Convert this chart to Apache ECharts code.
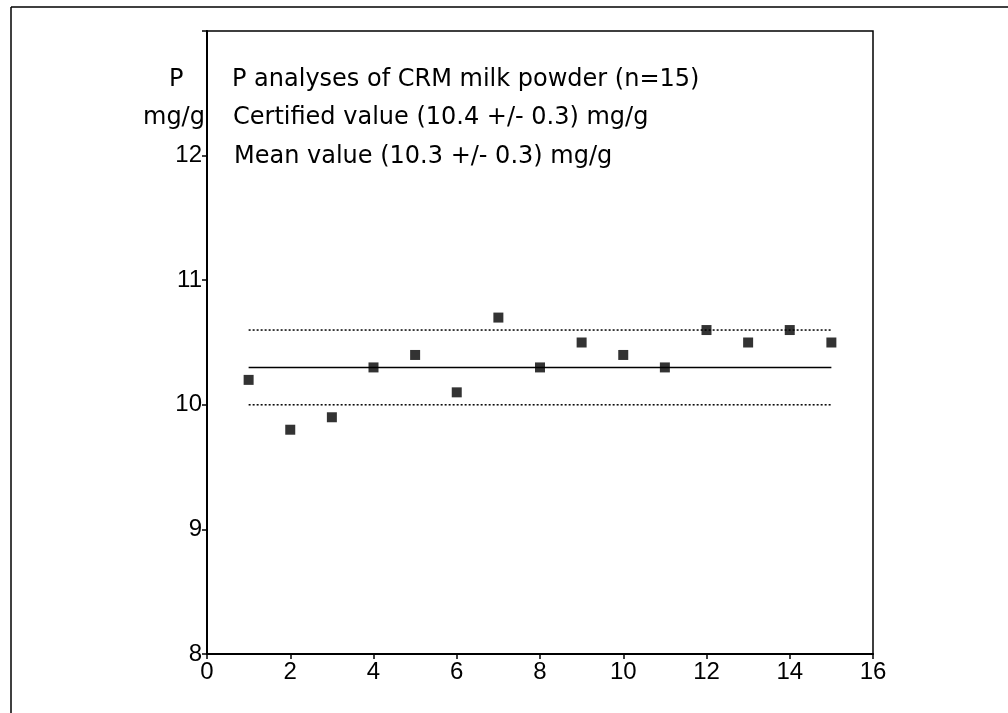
<!DOCTYPE html>
<html>
<head>
<meta charset="utf-8">
<script src="https://cdn.jsdelivr.net/npm/echarts@6/dist/echarts.min.js"></script>
<style>
  html, body { margin: 0; padding: 0; background: #fff; }
  #chart { width: 1008px; height: 713px; }
</style>
</head>
<body>
<div id="chart"></div>
<script>
// run number 1..15 and measured P (mg/g)
let runs = [1, 2, 3, 4, 5, 6, 7, 8, 9, 10, 11, 12, 13, 14, 15];
let pValues = [10.2, 9.8, 9.9, 10.3, 10.4, 10.1, 10.7, 10.3, 10.5, 10.4, 10.3, 10.6, 10.5, 10.6, 10.5];
let meanValue = 10.3;
let lowerLimit = 10.0;
let upperLimit = 10.6;
let noteLines = [
    'P analyses of CRM milk powder (n=15)',
    'Certified value (10.4 +/- 0.3) mg/g',
    'Mean value (10.3 +/- 0.3) mg/g'
];
let yLabels = ['8', '9', '10', '11', '12'];

// ----------------------------------------------------
let dataS = [];
for (let i = 0; i < runs.length; i++) {
    dataS.push([runs[i], pValues[i]]);
}
let first = runs[0], last = runs[runs.length - 1];
let refLine = function (v) { return [[first, v], [last, v]]; };

let chart = echarts.init(document.getElementById('chart'));
let noteFont = '24px "DejaVu Sans"';
let option = {
    animation: false,
    backgroundColor: '#fff',
    grid: {
        left: 207, right: 135, top: 31, bottom: 59,
        show: true, borderColor: '#000', borderWidth: 1.5
    },
    xAxis: {
        type: 'value', min: 0, max: 16, interval: 2,
        splitLine: { show: false },
        axisLine: { lineStyle: { color: '#000', width: 2 } },
        axisTick: { length: 5, lineStyle: { color: '#000', width: 1.5 } },
        axisLabel: { color: '#000', fontSize: 24, fontFamily: 'Liberation Sans', margin: 6 }
    },
    yAxis: {
        type: 'value', min: 8, max: 13, interval: 1,
        splitLine: { show: false },
        axisLine: { lineStyle: { color: '#000', width: 2 } },
        axisTick: { length: 5, lineStyle: { color: '#000', width: 1.5 } },
        axisLabel: {
            color: '#000', fontSize: 24, fontFamily: 'Liberation Sans', margin: 5,
            formatter: function (v) { return yLabels.indexOf(String(v)) >= 0 ? String(v) : ''; }
        }
    },
    graphic: [
        { type: 'line', shape: { x1: 11, y1: 7, x2: 1008, y2: 7 }, style: { stroke: '#000', lineWidth: 1.5 } },
        { type: 'line', shape: { x1: 11, y1: 7, x2: 11, y2: 713 }, style: { stroke: '#000', lineWidth: 1.5 } },
        { type: 'text', left: 169, top: 68, style: { text: 'P', font: noteFont, fill: '#000' } },
        { type: 'text', left: 143, top: 106, style: { text: 'mg/g', font: noteFont, fill: '#000' } },
        { type: 'text', left: 232, top: 68, style: { text: noteLines[0], font: noteFont, fill: '#000' } },
        { type: 'text', left: 233, top: 106, style: { text: noteLines[1], font: noteFont, fill: '#000' } },
        { type: 'text', left: 234, top: 145, style: { text: noteLines[2], font: noteFont, fill: '#000' } }
    ],
    series: [
        {
            type: 'line', data: refLine(meanValue), symbol: 'none', silent: true,
            lineStyle: { color: '#000', width: 1.5 }
        },
        {
            type: 'line', data: refLine(upperLimit), symbol: 'none', silent: true,
            lineStyle: { color: '#000', width: 1.5, type: [2, 2] }
        },
        {
            type: 'line', data: refLine(lowerLimit), symbol: 'none', silent: true,
            lineStyle: { color: '#000', width: 1.5, type: [2, 2] }
        },
        {
            type: 'scatter', data: dataS, symbol: 'rect', symbolSize: 10,
            itemStyle: { color: '#000' }, z: 5
        }
    ]
};

chart.setOption(option);
</script>
</body>
</html>
